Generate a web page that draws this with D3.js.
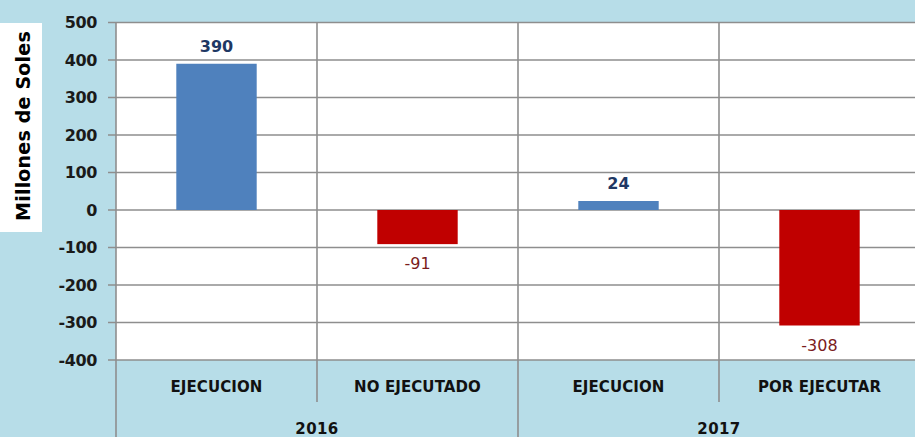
<!DOCTYPE html>
<html>
<head>
<meta charset="utf-8">
<script src="https://cdn.jsdelivr.net/npm/d3@7"></script>
<style>
  body { margin: 0; background: #b7dde8; }
  svg { display: block; }
  text { font-family: "DejaVu Sans", Verdana, sans-serif; }
</style>
</head>
<body>
<div id="chart"></div>
<script>
// data
const categories = ["EJECUCION", "NO EJECUTADO", "EJECUCION", "POR EJECUTAR"];
const categoryYears = ["2016", "2016", "2017", "2017"];
const years = ["2016", "2017"];
const values = [390, -91, 24, -308];
const yTicks = [500, 400, 300, 200, 100, 0, -100, -200, -300, -400];

const W = 915, H = 437;
const plot = {left: 116, right: 920, top: 22.5, bottom: 360};

const svg = d3.select("#chart")
    .append("svg")
    .attr("width", W)
    .attr("height", H);

// background
svg.append("rect")
    .attr("width", W).attr("height", H)
    .attr("fill", "#b7dde8");

const x = d3.scaleBand()
    .domain(d3.range(categories.length))
    .range([plot.left, plot.right])
    .padding(0);

const y = d3.scaleLinear()
    .domain([-400, 500])
    .range([plot.bottom, plot.top]);

// plot area
svg.append("rect")
    .attr("x", plot.left)
    .attr("y", plot.top)
    .attr("width", plot.right - plot.left)
    .attr("height", plot.bottom - plot.top)
    .attr("fill", "#fff");

const gridColor = "#8e8e8e";

// horizontal grid lines + tick marks
svg.append("g")
    .selectAll("line")
    .data(yTicks)
    .join("line")
    .attr("x1", plot.left - 8)
    .attr("x2", plot.right)
    .attr("y1", d => y(d))
    .attr("y2", d => y(d))
    .attr("stroke", gridColor)
    .attr("stroke-width", 1.6);

// vertical separators: inside plot for each category border
const borders = d3.range(categories.length + 1);
svg.append("g")
    .selectAll("line")
    .data(borders)
    .join("line")
    .attr("x1", i => i < categories.length ? x(i) : plot.right)
    .attr("x2", i => i < categories.length ? x(i) : plot.right)
    .attr("y1", plot.top)
    .attr("y2", i => (i === 0 || i === 2 || i === 4) ? H : 402)
    .attr("stroke", gridColor)
    .attr("stroke-width", 1.6);

// y tick labels
svg.append("g")
    .selectAll("text")
    .data(yTicks)
    .join("text")
    .attr("x", 97)
    .attr("y", d => y(d))
    .attr("dy", "0.36em")
    .attr("text-anchor", "end")
    .attr("font-size", 16)
    .attr("font-weight", "bold")
    .attr("letter-spacing", -0.4)
    .attr("fill", "#1a1a1a")
    .text(d => d);

// y axis title box
svg.append("rect")
    .attr("x", 0).attr("y", 23)
    .attr("width", 42).attr("height", 209)
    .attr("fill", "#fff");

svg.append("text")
    .attr("transform", "translate(30," + 126 + ") rotate(-90)")
    .attr("text-anchor", "middle")
    .attr("font-size", 19)
    .attr("font-weight", "bold")
    .attr("letter-spacing", 0.2)
    .attr("fill", "#000")
    .text("Millones de Soles");

// bars
const barW = x.bandwidth() * 0.4;
svg.append("g")
    .selectAll("rect")
    .data(values)
    .join("rect")
    .attr("x", (d, i) => x(i) + (x.bandwidth() - barW) / 2)
    .attr("y", d => y(Math.max(0, d)))
    .attr("width", barW)
    .attr("height", d => Math.abs(y(d) - y(0)))
    .attr("fill", d => d >= 0 ? "#4f81bd" : "#c00000");

// value labels
svg.append("g")
    .selectAll("text")
    .data(values)
    .join("text")
    .attr("x", (d, i) => x(i) + x.bandwidth() / 2)
    .attr("y", d => d >= 0 ? y(d) - 12 : y(d) + 25)
    .attr("text-anchor", "middle")
    .attr("font-size", 16)
    .attr("font-weight", d => d >= 0 ? "bold" : "normal")
    .attr("fill", d => d >= 0 ? "#1f3864" : "#7b1c1c")
    .text(d => d);

// category labels
svg.append("g")
    .selectAll("text")
    .data(categories)
    .join("text")
    .attr("x", (d, i) => x(i) + x.bandwidth() / 2)
    .attr("y", 387)
    .attr("dy", "0.36em")
    .attr("text-anchor", "middle")
    .attr("font-size", 15)
    .attr("font-weight", "bold")
    .attr("letter-spacing", 0.1)
    .attr("fill", "#111")
    .text(d => d);

// year labels
svg.append("g")
    .selectAll("text")
    .data(years)
    .join("text")
    .attr("x", yr => {
        const idx = d3.range(categories.length).filter(i => categoryYears[i] === yr);
        return (x(idx[0]) + x(idx[idx.length - 1]) + x.bandwidth()) / 2;
    })
    .attr("y", 429)
    .attr("dy", "0.36em")
    .attr("text-anchor", "middle")
    .attr("font-size", 15)
    .attr("font-weight", "bold")
    .attr("letter-spacing", 0.4)
    .attr("fill", "#111")
    .text(d => d);
</script>
</body>
</html>
